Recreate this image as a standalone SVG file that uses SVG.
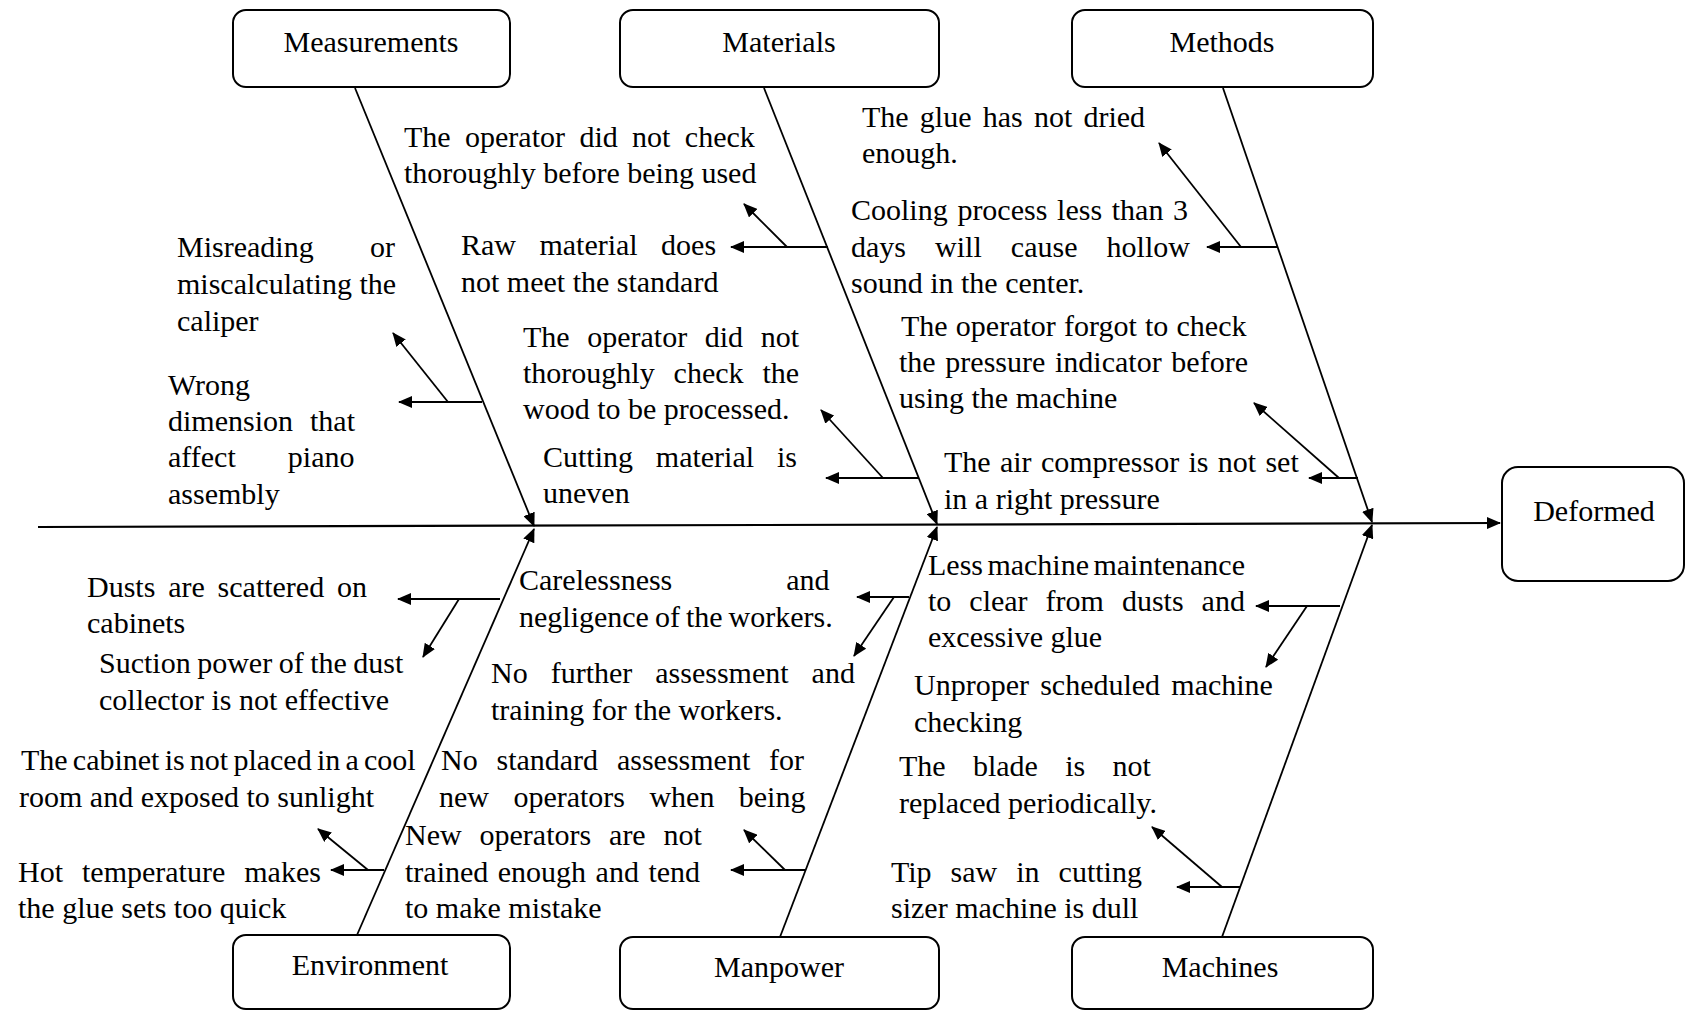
<svg xmlns="http://www.w3.org/2000/svg" width="1686" height="1011" viewBox="0 0 1686 1011">
<style>
.box{fill:#fff;stroke:#000;stroke-width:2}
.lbl{font-family:"Liberation Serif","Times New Roman",serif;font-size:30px;fill:#000;text-anchor:middle}
.t{font-family:"Liberation Serif","Times New Roman",serif;font-size:30px;fill:#000}
.ln{stroke:#000;stroke-width:1.8;fill:none}
.arr{stroke:#000;stroke-width:1.8;fill:none;marker-end:url(#ah)}
.spine{stroke:#000;stroke-width:2.2;fill:none;marker-end:url(#ah)}
</style>
<defs>
<marker id="ah" markerUnits="userSpaceOnUse" markerWidth="14" markerHeight="12" refX="13" refY="6" orient="auto">
<path d="M0,0 L14,6 L0,12 z" fill="#000"/>
</marker>
</defs>
<rect width="1686" height="1011" fill="#fff"/>

<g id="connectors">
<line class="spine" x1="38" y1="527" x2="1500" y2="523"/>
<line class="arr" x1="355" y1="88" x2="534" y2="526"/>
<line class="arr" x1="764" y1="88" x2="937" y2="524"/>
<line class="arr" x1="1223" y1="88" x2="1372" y2="522"/>
<line class="arr" x1="357" y1="935" x2="534" y2="529"/>
<line class="arr" x1="780" y1="937" x2="937" y2="527"/>
<line class="arr" x1="1222" y1="937" x2="1372" y2="525"/>
<line class="arr" x1="482" y1="402" x2="399" y2="402"/>
<line class="arr" x1="448" y1="402" x2="393" y2="333"/>
<line class="arr" x1="828" y1="247" x2="731" y2="247"/>
<line class="arr" x1="787" y1="247" x2="744" y2="204"/>
<line class="arr" x1="919" y1="478" x2="826" y2="478"/>
<line class="arr" x1="883" y1="478" x2="821" y2="410"/>
<line class="arr" x1="1277" y1="247" x2="1207" y2="247"/>
<line class="arr" x1="1241" y1="247" x2="1159" y2="143"/>
<line class="arr" x1="1358" y1="478" x2="1309" y2="478"/>
<line class="arr" x1="1339" y1="478" x2="1254" y2="403"/>
<line class="arr" x1="500" y1="599" x2="398" y2="599"/>
<line class="arr" x1="459" y1="599" x2="423" y2="657"/>
<line class="arr" x1="384" y1="870" x2="331" y2="870"/>
<line class="arr" x1="368" y1="870" x2="318" y2="829"/>
<line class="arr" x1="909" y1="597" x2="857" y2="597"/>
<line class="arr" x1="894" y1="597" x2="854" y2="656"/>
<line class="arr" x1="806" y1="870" x2="731" y2="870"/>
<line class="arr" x1="785" y1="870" x2="744" y2="830"/>
<line class="arr" x1="1340" y1="606" x2="1256" y2="606"/>
<line class="arr" x1="1307" y1="606" x2="1266" y2="667"/>
<line class="arr" x1="1240" y1="887" x2="1177" y2="887"/>
<line class="arr" x1="1222" y1="887" x2="1152" y2="827"/>
</g>

<g id="node-measurements"><rect class="box" x="233" y="10" width="277" height="77" rx="13"/><text class="lbl" x="371" y="52">Measurements</text></g>
<g id="node-materials"><rect class="box" x="620" y="10" width="319" height="77" rx="13"/><text class="lbl" x="779" y="52">Materials</text></g>
<g id="node-methods"><rect class="box" x="1072" y="10" width="301" height="77" rx="13"/><text class="lbl" x="1222" y="52">Methods</text></g>
<g id="node-deformed"><rect class="box" x="1502" y="467" width="182" height="114" rx="16"/><text class="lbl" x="1594" y="521">Deformed</text></g>
<g id="node-environment"><rect class="box" x="233" y="935" width="277" height="74" rx="13"/><text class="lbl" x="370" y="975">Environment</text></g>
<g id="node-manpower"><rect class="box" x="620" y="937" width="319" height="72" rx="13"/><text class="lbl" x="779" y="977">Manpower</text></g>
<g id="node-machines"><rect class="box" x="1072" y="937" width="301" height="72" rx="13"/><text class="lbl" x="1220" y="977">Machines</text></g>

<g id="cause-misreading"><text class="t"><tspan x="177" y="257" style="word-spacing:48.9px">Misreading or</tspan><tspan x="177" y="294">miscalculating the</tspan><tspan x="177" y="331">caliper</tspan></text></g>
<g id="cause-wrong-dimension"><text class="t"><tspan x="168" y="395">Wrong</tspan><tspan x="168" y="431" style="word-spacing:9.5px">dimension that</tspan><tspan x="168" y="467" style="word-spacing:44.6px">affect piano</tspan><tspan x="168" y="504">assembly</tspan></text></g>
<g id="cause-operator-check"><text class="t"><tspan x="404" y="147" style="word-spacing:6.9px">The operator did not check</tspan><tspan x="404" y="183">thoroughly before being used</tspan></text></g>
<g id="cause-raw-material"><text class="t"><tspan x="461" y="255" style="word-spacing:15.9px">Raw material does</tspan><tspan x="461" y="292">not meet the standard</tspan></text></g>
<g id="cause-wood"><text class="t"><tspan x="523" y="347" style="word-spacing:10.1px">The operator did not</tspan><tspan x="523" y="383" style="word-spacing:11.4px">thoroughly check the</tspan><tspan x="523" y="419">wood to be processed.</tspan></text></g>
<g id="cause-cutting"><text class="t"><tspan x="543" y="467" style="word-spacing:15.3px">Cutting material is</tspan><tspan x="543" y="503">uneven</tspan></text></g>
<g id="cause-glue"><text class="t"><tspan x="862" y="127" style="word-spacing:3.7px">The glue has not dried</tspan><tspan x="862" y="163">enough.</tspan></text></g>
<g id="cause-cooling"><text class="t"><tspan x="851" y="220" style="word-spacing:2.2px">Cooling process less than 3</tspan><tspan x="851" y="257" style="word-spacing:21.6px">days will cause hollow</tspan><tspan x="851" y="293">sound in the center.</tspan></text></g>
<g id="cause-pressure-indicator"><text class="t"><tspan x="901" y="336" style="word-spacing:0.7px">The operator forgot to check</tspan><tspan x="899" y="372" style="word-spacing:2.2px">the pressure indicator before</tspan><tspan x="899" y="408">using the machine</tspan></text></g>
<g id="cause-air-compressor"><text class="t"><tspan x="944" y="472" style="word-spacing:1.8px">The air compressor is not set</tspan><tspan x="944" y="509">in a right pressure</tspan></text></g>
<g id="cause-dusts"><text class="t"><tspan x="87" y="597" style="word-spacing:5.3px">Dusts are scattered on</tspan><tspan x="87" y="633">cabinets</tspan></text></g>
<g id="cause-suction"><text class="t"><tspan x="99" y="673" style="word-spacing:-1px">Suction power of the dust</tspan><tspan x="99" y="710">collector is not effective</tspan></text></g>
<g id="cause-cabinet"><text class="t"><tspan x="21" y="770" style="word-spacing:-2.3px">The cabinet is not placed in a cool</tspan><tspan x="19" y="807">room and exposed to sunlight</tspan></text></g>
<g id="cause-hot"><text class="t"><tspan x="18" y="882" style="word-spacing:11.5px">Hot temperature makes</tspan><tspan x="18" y="918">the glue sets too quick</tspan></text></g>
<g id="cause-carelessness"><text class="t"><tspan x="519" y="590" style="word-spacing:106.5px">Carelessness and</tspan><tspan x="519" y="627" style="word-spacing:-1.5px">negligence of the workers.</tspan></text></g>
<g id="cause-further-assessment"><text class="t"><tspan x="491" y="683" style="word-spacing:15.5px">No further assessment and</tspan><tspan x="491" y="720">training for the workers.</tspan></text></g>
<g id="cause-standard-assessment"><text class="t"><tspan x="441" y="770" style="word-spacing:11.3px">No standard assessment for</tspan><tspan x="439" y="807" style="word-spacing:16.9px">new operators when being</tspan></text></g>
<g id="cause-new-operators"><text class="t"><tspan x="405" y="845" style="word-spacing:10.4px">New operators are not</tspan><tspan x="405" y="882" style="word-spacing:2px">trained enough and tend</tspan><tspan x="405" y="918">to make mistake</tspan></text></g>
<g id="cause-maintenance"><text class="t"><tspan x="928" y="575" style="word-spacing:-3.1px">Less machine maintenance</tspan><tspan x="928" y="611" style="word-spacing:10.5px">to clear from dusts and</tspan><tspan x="928" y="647">excessive glue</tspan></text></g>
<g id="cause-unproper"><text class="t"><tspan x="914" y="695" style="word-spacing:3.7px">Unproper scheduled machine</tspan><tspan x="914" y="732">checking</tspan></text></g>
<g id="cause-blade"><text class="t"><tspan x="899" y="776" style="word-spacing:19.8px">The blade is not</tspan><tspan x="899" y="813">replaced periodically.</tspan></text></g>
<g id="cause-tip-saw"><text class="t"><tspan x="891" y="882" style="word-spacing:11.5px">Tip saw in cutting</tspan><tspan x="891" y="918">sizer machine is dull</tspan></text></g>
</svg>
